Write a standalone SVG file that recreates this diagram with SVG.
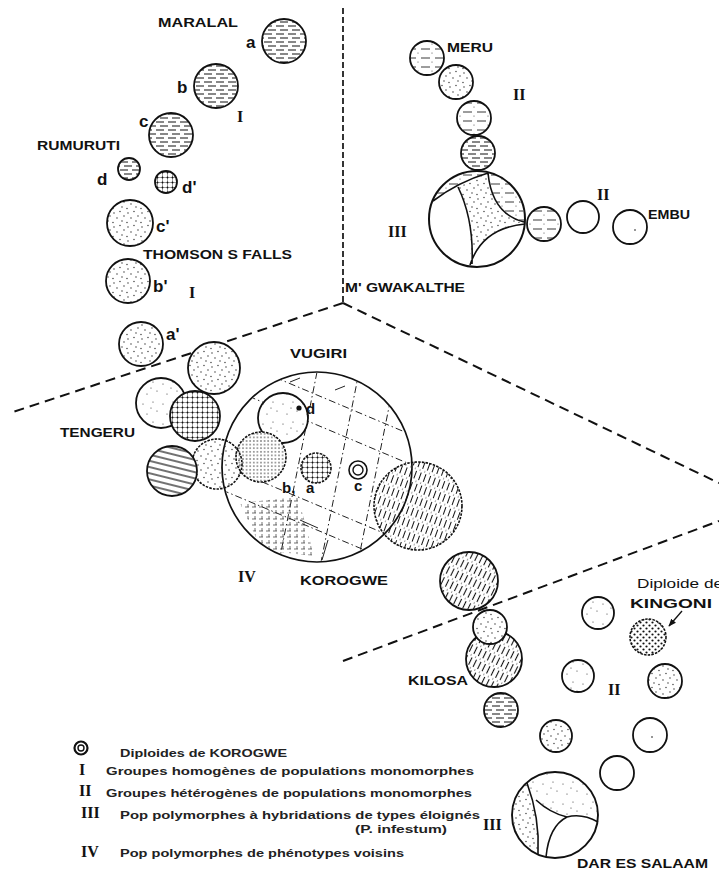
<svg xmlns="http://www.w3.org/2000/svg" width="719" height="871" viewBox="0 0 719 871">
<style>
.bg{fill:#fff}
.o{stroke:#111;stroke-width:1.8}
.od{stroke:#111;stroke-width:1.6;stroke-dasharray:2.5 1.2}
.lab{font-family:"Liberation Sans",Arial,sans-serif;font-weight:bold;font-size:13px;fill:#111}
.let{font-family:"Liberation Sans",Arial,sans-serif;font-size:17px;font-weight:bold;fill:#111}
.lets{font-family:"Liberation Sans",Arial,sans-serif;font-size:15px;font-weight:bold;fill:#111}
.rom{font-family:"Liberation Serif","Times New Roman",serif;font-size:16px;font-weight:bold;fill:#111}
.leg{font-family:"Liberation Sans",Arial,sans-serif;font-size:11px;font-weight:bold;fill:#222}
.div{fill:none;stroke:#111;stroke-width:2;stroke-dasharray:10 6}
.vdiv{fill:none;stroke:#111;stroke-width:1.7;stroke-dasharray:6 3}
.arc{fill:none;stroke:#111;stroke-width:1.6}
.kl{fill:none;stroke:#222;stroke-width:1;stroke-dasharray:7 3 1.5 3}
</style>
<defs>
<pattern id="hh" width="12" height="8" patternUnits="userSpaceOnUse"><path d="M0 2h8M4 6h8" stroke="#111" stroke-width="1.1"/></pattern>
<pattern id="hl" width="14" height="9" patternUnits="userSpaceOnUse"><path d="M1 4h9" stroke="#222" stroke-width="0.9"/><circle cx="12" cy="8" r="0.5" fill="#222"/></pattern>
<pattern id="st" width="14" height="14" patternUnits="userSpaceOnUse"><g fill="#222"><circle cx="2" cy="3" r="0.65"/><circle cx="8" cy="1.5" r="0.65"/><circle cx="12" cy="6" r="0.65"/><circle cx="5" cy="8" r="0.65"/><circle cx="10" cy="11" r="0.65"/><circle cx="1" cy="12.5" r="0.65"/></g></pattern>
<pattern id="st2" width="20" height="20" patternUnits="userSpaceOnUse"><g fill="#333"><circle cx="3" cy="4" r="0.6"/><circle cx="13" cy="2" r="0.6"/><circle cx="17" cy="11" r="0.6"/><circle cx="7" cy="14" r="0.6"/><circle cx="11" cy="8" r="0.6"/></g></pattern>
<pattern id="gd" width="3.6" height="3.6" patternUnits="userSpaceOnUse"><circle cx="1.8" cy="1.8" r="0.75" fill="#222"/></pattern>
<pattern id="gx" width="5" height="5" patternUnits="userSpaceOnUse"><path d="M0 2.5h5M2.5 0v5" stroke="#333" stroke-width="0.5"/><circle cx="2.5" cy="2.5" r="0.9" fill="#111"/></pattern>
<pattern id="sh" width="8" height="6" patternUnits="userSpaceOnUse" patternTransform="rotate(14)"><path d="M0 3h8" stroke="#111" stroke-width="1.2"/></pattern>
<pattern id="dg" width="5" height="12" patternUnits="userSpaceOnUse" patternTransform="rotate(20)"><path d="M2.5 0v8" stroke="#111" stroke-width="1"/><circle cx="0.5" cy="10" r="0.5" fill="#111"/></pattern>
<pattern id="dg2" width="5" height="12" patternUnits="userSpaceOnUse" patternTransform="rotate(26)"><path d="M2.5 0v8" stroke="#111" stroke-width="1.1"/><circle cx="0.5" cy="10" r="0.55" fill="#111"/></pattern>
<pattern id="kd" width="6" height="6" patternUnits="userSpaceOnUse"><circle cx="1.5" cy="1.5" r="1.1" fill="#111"/><circle cx="4.5" cy="4.5" r="1.1" fill="#111"/></pattern>
<pattern id="xh" width="7" height="6" patternUnits="userSpaceOnUse"><path d="M0 3h4M3 0v3" stroke="#333" stroke-width="0.7"/></pattern>
<marker id="ah" viewBox="0 0 10 10" refX="9" refY="5" markerWidth="6" markerHeight="6" orient="auto"><path d="M0 1L10 5L0 9z" fill="#111"/></marker>
<mask id="kmask" maskUnits="userSpaceOnUse" x="0" y="0" width="719" height="871">
<circle cx="317" cy="467" r="94" fill="#fff"/>
<circle cx="418" cy="506" r="45" fill="#000"/>
<circle cx="217" cy="464" r="26" fill="#000"/>
</mask>
</defs>
<rect width="719" height="871" fill="#fff"/>

<g id="connectors">
<path class="vdiv" d="M343 8V303"/>
<path class="div" d="M343 303L13 412"/>
<path class="div" d="M343 303L719 483"/>
<path class="div" d="M343 661L719 521"/>
<line x1="682" y1="611" x2="669" y2="626" stroke="#111" stroke-width="1.3" marker-end="url(#ah)"/>
</g>

<!-- Group I : Maralal / Rumuruti / Thomson's Falls -->
<g id="maralal-a"><circle class="bg" cx="284" cy="41" r="22"/><circle class="o" cx="284" cy="41" r="22" fill="url(#hh)"/></g>
<g id="maralal-b"><circle class="bg" cx="216" cy="86" r="22"/><circle class="o" cx="216" cy="86" r="22" fill="url(#hh)"/></g>
<g id="maralal-c"><circle class="bg" cx="171" cy="135" r="22"/><circle class="o" cx="171" cy="135" r="22" fill="url(#hh)"/></g>
<g id="rumuruti-d"><circle class="bg" cx="129" cy="169" r="11"/><circle class="o" cx="129" cy="169" r="11" fill="url(#hh)"/></g>
<g id="rumuruti-d2"><circle class="bg" cx="166" cy="182" r="11"/><circle class="o" cx="166" cy="182" r="11" fill="url(#gx)"/></g>
<g id="thomson-c2"><circle class="bg" cx="130" cy="223" r="23"/><circle class="o" cx="130" cy="223" r="23" fill="url(#st)"/></g>
<g id="thomson-b2"><circle class="bg" cx="128" cy="281" r="22"/><circle class="o" cx="128" cy="281" r="22" fill="url(#st)"/></g>
<g id="thomson-a2"><circle class="bg" cx="141" cy="344" r="22"/><circle class="o" cx="141" cy="344" r="22" fill="url(#st)"/></g>

<!-- Tengeru -->
<g id="tengeru-1"><circle class="bg" cx="214" cy="368" r="26"/><circle class="o" cx="214" cy="368" r="26" fill="url(#st)"/></g>
<g id="tengeru-2"><circle class="bg" cx="161" cy="403" r="25"/><circle class="o" cx="161" cy="403" r="25" fill="url(#st2)"/></g>
<g id="tengeru-3"><circle class="bg" cx="195" cy="416" r="25"/><circle class="o" cx="195" cy="416" r="25" fill="url(#gx)"/></g>

<!-- Korogwe -->
<g id="korogwe">
<circle class="bg" cx="317" cy="467" r="95"/>
<g mask="url(#kmask)">
<path class="kl" d="M317 372L279 562M359 372L321 562M396 372L358 562"/>
<path class="kl" d="M222 355L412 435M222 385L412 465M222 465L412 545M222 490L412 570"/>
<path d="M290 382L300 378M335 390L345 386M300 520L318 528M322 560L328 540" stroke="#222" stroke-width="1" fill="none"/>
<path d="M240 503L298 497L314 556L262 550Z" fill="url(#xh)"/>
</g>
<circle cx="317" cy="467" r="95" fill="none" stroke="#111" stroke-width="1.7"/>
</g>
<g id="korogwe-d"><circle class="bg" cx="283" cy="418" r="25"/><circle class="o" cx="283" cy="418" r="25" fill="url(#st2)"/></g>
<g id="korogwe-b"><circle class="bg" cx="261" cy="457" r="25"/><circle class="od" cx="261" cy="457" r="25" fill="url(#gd)"/></g>
<g id="korogwe-a"><circle class="bg" cx="316" cy="468" r="15"/><circle class="od" cx="316" cy="468" r="15" fill="url(#gx)"/></g>
<g id="korogwe-c"><circle class="bg" cx="358" cy="470" r="9"/><circle cx="358" cy="470" r="9" fill="none" stroke="#111" stroke-width="1.6"/><circle cx="358" cy="470" r="5" fill="none" stroke="#111" stroke-width="1.4"/></g>
<g id="korogwe-right"><circle class="od" cx="418" cy="506" r="44" fill="url(#dg)"/></g>
<g id="tengeru-5"><circle class="od" cx="217" cy="464" r="25" fill="url(#st)"/></g>
<g id="tengeru-4"><circle class="bg" cx="172" cy="471" r="25"/><circle class="o" cx="172" cy="471" r="25" fill="url(#sh)"/></g>

<!-- Meru / M'Gwakalthe / Embu -->
<g id="meru-1"><circle class="bg" cx="427" cy="58" r="17"/><circle class="o" cx="427" cy="58" r="17" fill="url(#hl)"/></g>
<g id="meru-2"><circle class="bg" cx="456" cy="82" r="17"/><circle class="o" cx="456" cy="82" r="17" fill="url(#st)"/></g>
<g id="meru-3"><circle class="bg" cx="474" cy="118" r="17"/><circle class="o" cx="474" cy="118" r="17" fill="url(#hl)"/></g>
<g id="meru-4"><circle class="bg" cx="478" cy="153" r="17"/><circle class="o" cx="478" cy="153" r="17" fill="url(#hh)"/></g>
<g id="mgwakalthe">
<circle class="bg" cx="477" cy="219" r="48"/>
<path d="M458 187L488 173Q492 214 524 222Q482 228 470 265Q474 220 458 187Z" fill="url(#st)"/>
<path d="M488 173Q492 214 524 222A48 48 0 0 0 488 173Z" fill="url(#hl)"/>
<path d="M433 201Q458 182 488 173A48 48 0 0 0 433 201Z" fill="url(#hl)"/>
<path class="arc" d="M433 201Q458 182 488 173M488 173Q492 214 524 222M525 224Q482 228 470 265M458 187Q474 220 472 264"/>
<circle cx="477" cy="219" r="48" fill="none" stroke="#111" stroke-width="2"/>
</g>
<g id="embu-1"><circle class="bg" cx="544" cy="224" r="17"/><circle class="o" cx="544" cy="224" r="17" fill="url(#hl)"/></g>
<g id="embu-2"><circle class="o" cx="583" cy="217" r="16" fill="#fff"/></g>
<g id="embu-3"><circle class="o" cx="630" cy="227" r="17" fill="#fff"/><circle cx="635" cy="230" r="0.8" fill="#111"/></g>

<!-- Kilosa / Kingoni / Dar es Salaam -->
<g id="kilosa-1"><circle class="bg" cx="469" cy="581" r="29"/><circle class="o" cx="469" cy="581" r="29" fill="url(#dg2)"/></g>
<g id="kilosa-3"><circle class="bg" cx="494" cy="659" r="28"/><circle class="o" cx="494" cy="659" r="28" fill="url(#dg2)"/></g>
<g id="kilosa-2"><circle class="bg" cx="490" cy="627" r="17"/><circle class="o" cx="490" cy="627" r="17" fill="url(#st)"/></g>
<g id="kilosa-4"><circle class="bg" cx="501" cy="710" r="17"/><circle class="o" cx="501" cy="710" r="17" fill="url(#hh)"/></g>
<g id="ii-1"><circle class="bg" cx="598" cy="613" r="16"/><circle class="o" cx="598" cy="613" r="16" fill="url(#st2)"/></g>
<g id="kingoni"><circle class="bg" cx="648" cy="637" r="18"/><circle class="od" cx="648" cy="637" r="18" fill="url(#kd)"/></g>
<g id="ii-2"><circle class="bg" cx="578" cy="676" r="16"/><circle class="o" cx="578" cy="676" r="16" fill="url(#st2)"/></g>
<g id="ii-3"><circle class="bg" cx="665" cy="681" r="17"/><circle class="o" cx="665" cy="681" r="17" fill="url(#st)"/></g>
<g id="ii-4"><circle class="bg" cx="556" cy="736" r="16"/><circle class="o" cx="556" cy="736" r="16" fill="url(#st)"/></g>
<g id="ii-5"><circle class="o" cx="650" cy="735" r="17" fill="#fff"/><circle cx="652" cy="737" r="0.8" fill="#111"/></g>
<g id="ii-6"><circle class="o" cx="617" cy="773" r="17" fill="#fff"/></g>
<g id="dar-es-salaam">
<circle class="bg" cx="555" cy="815" r="43"/>
<path d="M527 783Q540 818 538 854A43 43 0 0 1 527 783Z" fill="url(#st)"/>
<path d="M527 783L536 800Q550 813 567 817Q582 813 598 822A43 43 0 0 0 527 783Z" fill="url(#st2)"/>
<path class="arc" d="M527 783Q540 818 538 854M536 800Q550 813 567 817M567 817Q549 826 546 857M567 817Q582 813 598 822"/>
<circle cx="555" cy="815" r="43" fill="none" stroke="#111" stroke-width="1.9"/>
</g>

<!-- labels -->
<g id="labels">
<text class="lab" x="158" y="27" textLength="80" lengthAdjust="spacingAndGlyphs">MARALAL</text>
<text class="lab" x="37" y="150" textLength="83" lengthAdjust="spacingAndGlyphs">RUMURUTI</text>
<text class="lab" x="143" y="259" textLength="149" lengthAdjust="spacingAndGlyphs">THOMSON S FALLS</text>
<text class="lab" x="60" y="437" textLength="75" lengthAdjust="spacingAndGlyphs">TENGERU</text>
<text class="lab" x="290" y="358" textLength="57" lengthAdjust="spacingAndGlyphs">VUGIRI</text>
<text class="lab" x="300" y="585" textLength="88" lengthAdjust="spacingAndGlyphs">KOROGWE</text>
<text class="lab" x="447" y="52" textLength="46" lengthAdjust="spacingAndGlyphs">MERU</text>
<text class="lab" x="648" y="219" textLength="42" lengthAdjust="spacingAndGlyphs">EMBU</text>
<text class="lab" x="345" y="292" textLength="120" lengthAdjust="spacingAndGlyphs">M' GWAKALTHE</text>
<text class="lab" x="408" y="685" textLength="60" lengthAdjust="spacingAndGlyphs">KILOSA</text>
<text class="lab" x="577" y="868" textLength="131" lengthAdjust="spacingAndGlyphs">DAR ES SALAAM</text>
<text class="lab" x="637" y="588" style="font-weight:normal" textLength="86" lengthAdjust="spacingAndGlyphs">Diploide de</text>
<text class="lab" x="630" y="608" textLength="82" lengthAdjust="spacingAndGlyphs">KINGONI</text>

<text class="let" x="246" y="48">a</text>
<text class="let" x="177" y="93">b</text>
<text class="let" x="139" y="127">c</text>
<text class="let" x="97" y="185">d</text>
<text class="let" x="182" y="193">d'</text>
<text class="let" x="156" y="232">c'</text>
<text class="let" x="153" y="292">b'</text>
<text class="let" x="166" y="340">a'</text>
<circle cx="299" cy="408" r="2.6" fill="#111"/>
<text class="lets" x="306" y="414">d</text>
<text class="lets" x="282" y="493">b,</text>
<text class="lets" x="306" y="493">a</text>
<text class="lets" x="354" y="491">c</text>

<text class="rom" x="237" y="122">I</text>
<text class="rom" x="189" y="298">I</text>
<text class="rom" x="513" y="100">II</text>
<text class="rom" x="388" y="237">III</text>
<text class="rom" x="597" y="200">II</text>
<text class="rom" x="238" y="582">IV</text>
<text class="rom" x="608" y="695">II</text>
<text class="rom" x="483" y="830">III</text>
</g>

<!-- legend -->
<g id="legend">
<circle cx="81" cy="748" r="6.5" fill="none" stroke="#111" stroke-width="2.2"/>
<circle cx="81" cy="748" r="3" fill="none" stroke="#111" stroke-width="1.4"/>
<text class="leg" x="120" y="757" textLength="167" lengthAdjust="spacingAndGlyphs">Diploides de KOROGWE</text>
<text class="rom" x="79" y="775">I</text>
<text class="leg" x="106" y="775" textLength="368" lengthAdjust="spacingAndGlyphs">Groupes homogènes de populations monomorphes</text>
<text class="rom" x="79" y="796">II</text>
<text class="leg" x="106" y="797" textLength="366" lengthAdjust="spacingAndGlyphs">Groupes hétérogènes de populations monomorphes</text>
<text class="rom" x="81" y="818">III</text>
<text class="leg" x="120" y="819" textLength="360" lengthAdjust="spacingAndGlyphs">Pop polymorphes à hybridations de types éloignés</text>
<text class="leg" x="355" y="833" textLength="92" lengthAdjust="spacingAndGlyphs">(P. infestum)</text>
<text class="rom" x="81" y="857">IV</text>
<text class="leg" x="120" y="857" textLength="284" lengthAdjust="spacingAndGlyphs">Pop polymorphes de phénotypes voisins</text>
</g>
</svg>
